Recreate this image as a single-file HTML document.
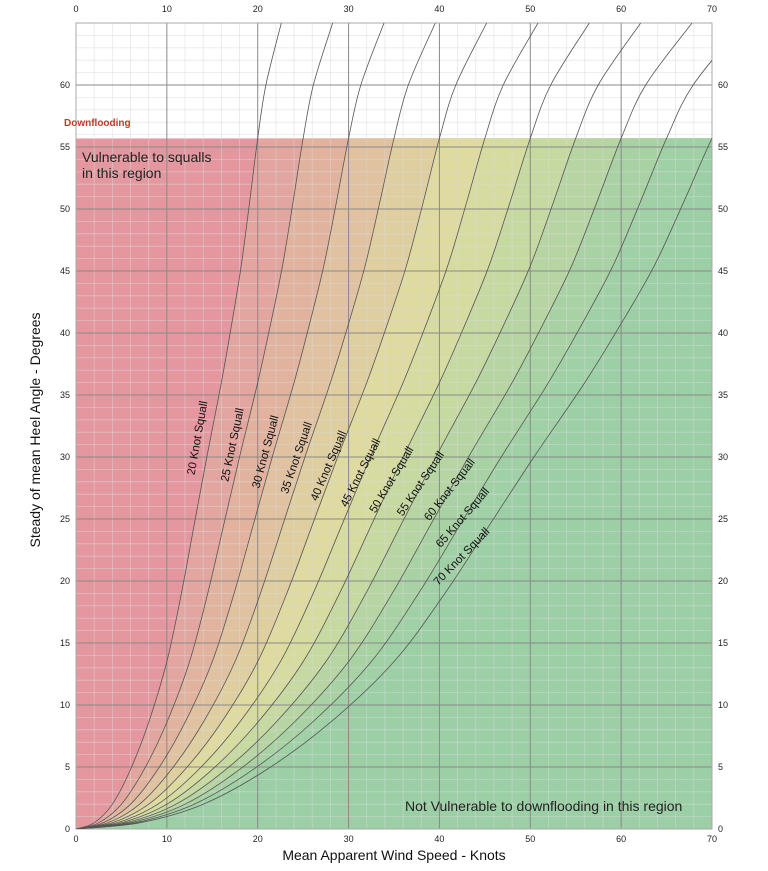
<!DOCTYPE html>
<html><head><meta charset="utf-8"><style>
body{margin:0;background:#fff;font-family:"Liberation Sans",sans-serif}
svg text{font-family:"Liberation Sans",sans-serif}
</style></head><body>
<svg id="c" width="768" height="866" xmlns="http://www.w3.org/2000/svg"></svg>
<script>
const squalls=[20,25,30,35,40,45,50,55,60,65,70];
const shapeRatio=[0,0.1,0.2,0.3,0.4,0.5,0.58,0.65,0.72,0.80,0.86,0.91,0.955,1.0,1.045,1.13];
const shapeAngle=[0,0.5,2.0,4.8,8.6,13.5,19,24.5,30,36,41,45.5,50.5,55.7,60,65];
const xTicks=[0,10,20,30,40,50,60,70];
const yTicks=[0,5,10,15,20,25,30,35,40,45,50,55,60];
const downflooding=55.7;
const bandColors=["#e4979f","#e2a59f","#e1b39f","#e0c1a0","#dfcfa0","#dfdaa0","#d6dca0","#c6d9a1","#b6d5a3","#a9d2a4","#a0d0a5","#9ccfa6"];
const labelPos=[[198,438,-80],[233,445,-78],[266,452,-75],[297,458,-71],[329,466,-67],[361,473,-63],[392,480,-59],[421,484,-56],[450,490,-52],[463,518,-49],[462,557,-46]];

const X0=76,X1=712,Y0=829,Ymax=65;
const xs=v=>X0+(X1-X0)*v/70;
const ys=v=>Y0-12.4*v;
const YT=ys(Ymax);
const NS="http://www.w3.org/2000/svg";
const svg=document.getElementById('c');
function mk(tag,attrs,parent){const e=document.createElementNS(NS,tag);for(const k in attrs)e.setAttribute(k,attrs[k]);(parent||svg).appendChild(e);return e;}

const defs=mk('defs',{});
const cp=mk('clipPath',{id:'shade'},defs);
mk('rect',{x:X0,y:ys(downflooding),width:X1-X0,height:Y0-ys(downflooding)},cp);
const cp2=mk('clipPath',{id:'plot'},defs);
mk('rect',{x:X0,y:YT,width:X1-X0,height:Y0-YT},cp2);

function curvePts(S){return shapeRatio.map((r,i)=>[xs(r*S),ys(shapeAngle[i])]);}
function curvePath(pts){
  let d='M'+pts[0].join(',');
  for(let i=1;i<pts.length;i++){
    const p0=pts[Math.max(i-2,0)],p1=pts[i-1],p2=pts[i],p3=pts[Math.min(i+1,pts.length-1)];
    const c1=[p1[0]+(p2[0]-p0[0])/6,p1[1]+(p2[1]-p0[1])/6],c2=[p2[0]-(p3[0]-p1[0])/6,p2[1]-(p3[1]-p1[1])/6];
    d+=' C'+c1.join(',')+' '+c2.join(',')+' '+p2.join(',');
  }
  return d;
}

// shaded regions
const gShade=mk('g',{'clip-path':'url(#shade)'});


const base=mk('rect',{x:X0,y:ys(downflooding),width:X1-X0,height:Y0-ys(downflooding),fill:bandColors[0]},gShade);


squalls.forEach((S,i)=>{
  const pts=curvePts(S);
  const last=pts[pts.length-1];
  const d=curvePath(pts)+` L${xs(200)},${last[1]} L${xs(200)},${Y0+5} L${X0},${Y0+5} Z`;
  const p=mk('path',{d:d,fill:bandColors[i+1]},gShade);
  
  
});

// grid
const gGrid=mk('g',{});


for(let k=0;k<=70;k+=2){if(k%10)mk('line',{x1:xs(k),x2:xs(k),y1:YT,y2:Y0,stroke:'#d8d8d8','stroke-opacity':0.6,'stroke-width':0.8},gGrid);}
for(let d=0;d<=65;d++){if(d%5)mk('line',{x1:X0,x2:X1,y1:ys(d),y2:ys(d),stroke:'#d8d8d8','stroke-opacity':0.6,'stroke-width':0.8},gGrid);}
xTicks.forEach(t=>mk('line',{x1:xs(t),x2:xs(t),y1:YT,y2:Y0,stroke:'#8a8a8a','stroke-width':1},gGrid));
yTicks.forEach(t=>mk('line',{x1:X0,x2:X1,y1:ys(t),y2:ys(t),stroke:'#8a8a8a','stroke-width':1},gGrid));
mk('rect',{x:X0,y:YT,width:X1-X0,height:Y0-YT,fill:'none',stroke:'#aaa','stroke-width':1},gGrid);

// curves
const gC=mk('g',{'clip-path':'url(#plot)'});
squalls.forEach(S=>{
  const path=mk('path',{d:curvePath(curvePts(S)),fill:'none',stroke:'#555','stroke-width':0.8},gC);
  
  
});

// curve labels
squalls.forEach((S,i)=>{
  const [x,y,r]=labelPos[i];
  const t=mk('text',{x:x,y:y,'font-size':11.5,'text-anchor':'middle','dominant-baseline':'middle',transform:`rotate(${r} ${x} ${y})`,fill:'#111'});
  t.textContent=S+' Knot Squall';
  
  
});

// ticks
xTicks.forEach(t=>{
  const a=mk('text',{x:xs(t),y:842,'font-size':9,'text-anchor':'middle',fill:'#222'});a.textContent=t;
  
  
  const b=mk('text',{x:xs(t),y:12,'font-size':9,'text-anchor':'middle',fill:'#222'});b.textContent=t;
  
  
});
yTicks.forEach(t=>{
  const a=mk('text',{x:70,y:ys(t)+3,'font-size':9,'text-anchor':'end',fill:'#222'});a.textContent=t;
  
  
  const b=mk('text',{x:718,y:ys(t)+3,'font-size':9,'text-anchor':'start',fill:'#222'});b.textContent=t;
  
  
});
</script>
<svg width="768" height="866" style="position:absolute;left:0;top:0;pointer-events:none" xmlns="http://www.w3.org/2000/svg">
<text x="64" y="126" font-size="10" font-weight="bold" fill="#c0392b">Downflooding</text>
<text x="82" y="162" font-size="14" fill="#222">Vulnerable to squalls</text>
<text x="82" y="178" font-size="14" fill="#222">in this region</text>
<text x="405" y="811" font-size="14" fill="#222">Not Vulnerable to downflooding in this region</text>
<text x="394" y="860" font-size="14" text-anchor="middle" fill="#111">Mean Apparent Wind Speed - Knots</text>
<text x="40" y="430" font-size="14" text-anchor="middle" fill="#111" transform="rotate(-90 40 430)">Steady of mean Heel Angle - Degrees</text>
</svg>
</body></html>
